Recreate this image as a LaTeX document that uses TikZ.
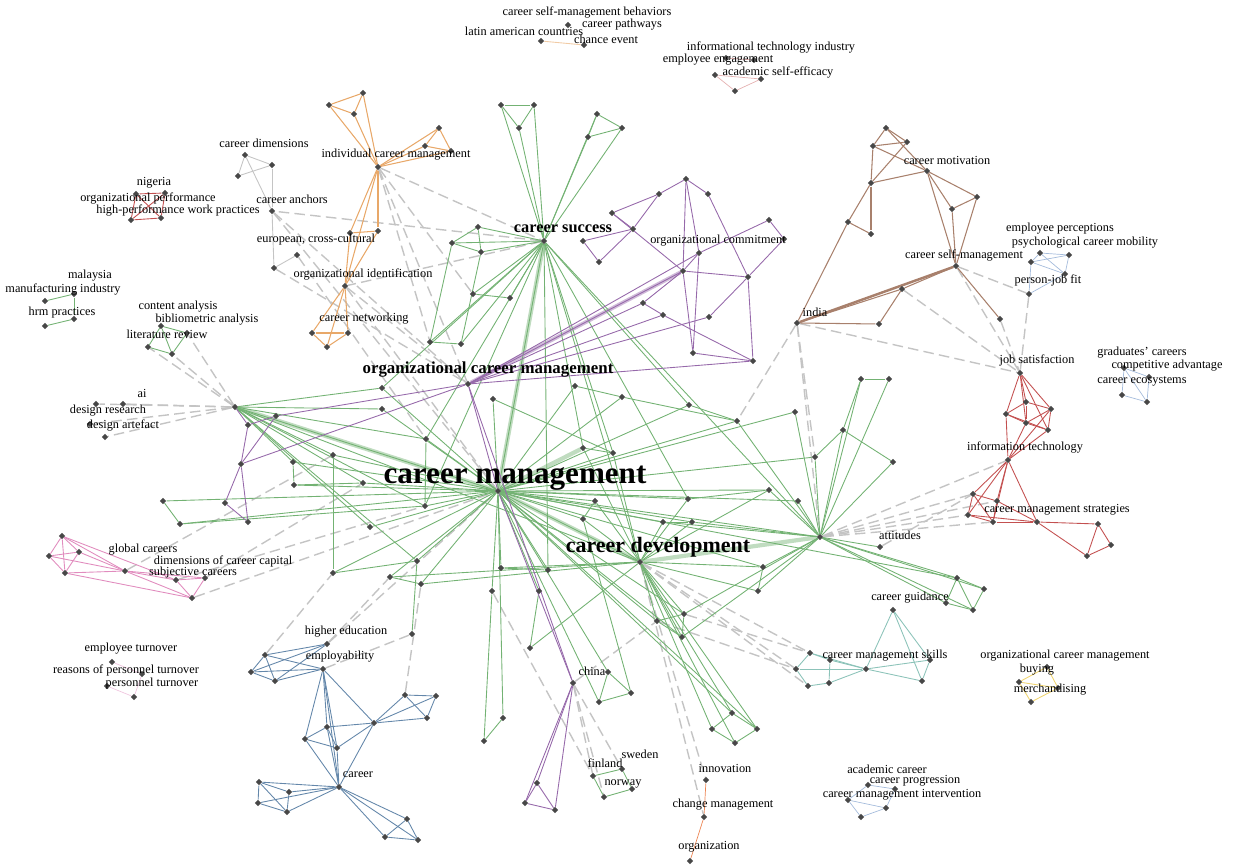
\documentclass[tikz,border=0pt]{standalone}
\usepackage{fontspec}
\setmainfont{Liberation Serif}
\usetikzlibrary{shapes.geometric}
\pgfdeclarelayer{bg}
\pgfsetlayers{bg,main}
\definecolor{grnc}{RGB}{115,178,115}
\definecolor{purc}{RGB}{150,105,170}
\definecolor{orac}{RGB}{232,168,105}
\definecolor{broc}{RGB}{168,128,108}
\definecolor{redc}{RGB}{195,80,80}
\definecolor{bluc}{RGB}{100,135,170}
\definecolor{pnkc}{RGB}{225,140,190}
\definecolor{gryc}{RGB}{196,196,196}
\definecolor{telc}{RGB}{140,195,185}
\definecolor{yelc}{RGB}{240,212,110}
\definecolor{lbuc}{RGB}{165,188,220}
\tikzset{
  dot/.style={diamond, fill=black!72, inner sep=0pt, minimum size=3.8pt},
  lab/.style={font=\fontsize{7}{7}\selectfont, inner sep=0pt},
  grn/.style={grnc, line width=0.5pt},
  grnw/.style={grnc!45, line width=2.4pt},
  pur/.style={purc, line width=0.5pt},
  ora/.style={orac, line width=0.6pt},
  bro/.style={broc, line width=0.6pt},
  rd/.style={redc, line width=0.5pt},
  blu/.style={bluc, line width=0.5pt},
  pnk/.style={pnkc, line width=0.5pt},
  gry/.style={gryc, line width=0.5pt},
  dsh/.style={gryc, line width=0.8pt, dash pattern=on 6pt off 3pt},
}
\begin{document}
\begin{tikzpicture}[x=0.02cm, y=-0.02cm]
\useasboundingbox (0,0) rectangle (1233,868);
% green part
\foreach \n/\x/\y in {cm/498/491, cs/544/241, cd/640/562, hl/235/407, hr/820/537,
  g1/501/105, g2/534/105, g3/519/128, g4/597/114, g5/622/128, g6/588/137, g7/478/227, g8/452/243,
  g9/481/252, g10/473/294, g11/510/298, g12/430/342, g13/461/344, g14/382/388, g15/382/409,
  g16/493/399, g17/575/386, g18/622/397, g19/689/405, g20/737/421, g21/795/412, g22/426/439,
  g23/583/448, g24/613/453, g25/815/457, g26/425/506, g27/595/501, g28/688/499, g29/769/490,
  g30/798/501, g31/583/519, g32/663/522, g33/692/522, g34/763/567, g35/417/561, g36/501/568,
  g37/548/570, g38/333/455, g39/293/462, g40/294/485, g41/363/483, g42/370/527, g43/163/501,
  g44/180/524, g45/333/573, g46/390/577, g47/421/584, g48/492/591, g49/539/591, g50/758/591,
  g51/657/621, g52/684/614, g53/682/637, g54/530/648, g55/412/634, g56/503/718, g57/484/741,
  g58/608/672, g59/599/702, g60/631/693, g61/732/713, g62/712/729, g63/757/729, g64/735/743,
  g65/861/379, g66/889/379, g67/843/430, g68/893/462, g69/880/547, g70/957/578, g71/984/589,
  g72/946/603, g73/973/610}
  \node (\n) [dot] at (\x,\y) {};
% purple part
\foreach \n/\x/\y in {ocm/468/384, p1/612/213, p2/659/194, p3/686/179, p4/708/194, p5/633/229,
  p6/583/241, p7/599/262, p8/769/220, p9/784/239, p10/699/253, p11/683/271, p12/748/277,
  p13/643/303, p14/663/315, p15/709/317, p16/693/353, p17/753/361, p18/276/416, p19/248/425,
  p20/241/464, p21/225/503, p22/248/522, p23/573/683, p24/537/783, p25/525/803, p26/555/810}
  \node (\n) [dot] at (\x,\y) {};
% small clusters
\foreach \n/\x/\y in {o0/378/167, o1/329/105, o2/363/93, o3/354/114, o4/439/128, o5/425/146,
  o6/451/151, o7/350/233, o8/378/231, o9/345/286, o10/312/333, o11/348/333, o12/327/347,
  k1/245/155, k2/272/165, k3/238/176, k4/272/211, k5/297/255, k6/274/268,
  n1/136/194, n2/165/193, n3/131/220, n4/161/218, t1/541/41, t2/584/45, t3/568/25,
  e1/715/75, e2/761/79, e3/735/91, e4/726/58, e5/754/60,
  b1/886/128, b2/907/142, b3/873/146, b4/927/171, b5/871/183, b6/977/197, b7/952/209,
  b8/848/222, b9/871/234, b10/956/266, b11/902/289, b12/797/323, b13/879/324, b14/1000/319,
  q1/1031/262, q2/1069/255, q3/1040/253, q4/1065/274, q5/1029/294,
  r1/1020/373, r2/1026/402, r3/1006/414, r4/1051/409, r5/1026/423, r6/1048/430, r7/1008/460,
  r8/973/494, r9/997/501, r10/968/515, r11/993/522, r12/1037/522, r13/1098/524, r14/1111/545,
  r15/1087/556, u1/1124/368, u2/1149/377, u3/1122/395, u4/1147/402,
  s1/327/644, s2/323/669, s3/265/655, s4/251/672, s5/275/681, s6/327/727, s7/305/739,
  s8/337/748, s9/374/723, s10/405/695, s11/436/696, s12/427/718, s13/339/787, s14/259/782,
  s15/289/792, s16/258/803, s17/287/812, s18/407/819, s19/385/837, s20/418/840,
  h1/62/536, h2/49/556, h3/79/552, h4/65/573, h5/125/571, h6/176/580, h7/205/578, h8/192/598,
  c1/810/653, c2/796/669, c3/808/686, c4/830/660, c5/866/669, c6/829/683, c7/922/681,
  c8/930/660, cg/893/610, y1/1047/667, y2/1019/682, y3/1058/688, y4/1031/702,
  f1/593/776, f2/622/769, f3/632/789, f4/604/797, i1/706/780, i2/704/817, i3/690/861,
  a1/868/785, a2/895/789, a3/848/800, a4/886/808, a5/861/817,
  m1/74/294, m2/45/301, m3/74/319, m4/45/326, l1/161/326, l2/187/333, l3/148/347, l4/172/354,
  d1/96/404, d2/123/404, d3/90/424, d4/105/437, w1/112/662, w2/142/674, w3/107/686, w4/134/697}
  \node (\n) [dot] at (\x,\y) {};
% labels
\node (tcm) [font=\fontsize{17.7}{18}\bfseries\selectfont, inner sep=0pt] at (515,478) {career management};
\node (tcd) [font=\fontsize{12.5}{13}\bfseries\selectfont, inner sep=0pt] at (658,547) {career development};
\node (tcs) [font=\fontsize{9.3}{10}\bfseries\selectfont, inner sep=0pt] at (563,229) {career success};
\node (tocm) [font=\fontsize{9.6}{10}\bfseries\selectfont, inner sep=0pt] at (488,370) {organizational career management};
\foreach \n/\x/\y/\t in {t01/587/13/career self-management behaviors, t02/524/31/latin american countries,
  t03/622/25/career pathways, t04/606/39/chance event, t05/771/47/informational technology industry,
  t06/718/60/employee engagement, t07/778/72/academic self-efficacy, t08/947/160/career motivation,
  t09/264/143/career dimensions, t10/396/155/individual career management, t11/154/183/nigeria,
  t12/148/198/organizational performance, t13/178/210/high-performance work practices,
  t14/292/199/career anchors, t15/718/241/organizational commitment, t16/316/240/{european, cross-cultural},
  t17/1060/229/employee perceptions, t18/1085/243/psychological career mobility,
  t19/964/255/career self-management, t20/363/274/organizational identification, t21/90/276/malaysia,
  t22/63/289/manufacturing industry, t23/1048/280/person-job fit, t24/62/313/hrm practices,
  t25/178/307/content analysis, t26/207/320/bibliometric analysis, t27/364/319/career networking,
  t28/815/312/india, t29/167/334/literature review, t30/1037/360/job satisfaction,
  t31/1142/353/graduates' careers, t32/1167/366/competitive advantage, t33/1142/381/career ecosystems,
  t35/142/393/ai, t36/108/411/design research, t37/123/425/design artefact,
  t38/1025/447/information technology, t40/1057/510/career management strategies,
  t41/900/535/attitudes, t43/143/550/global careers, t44/223/561/dimensions of career capital,
  t45/193/573/subjective careers, t46/910/598/career guidance, t47/346/632/higher education,
  t48/131/649/employee turnover, t49/885/656/career management skills,
  t50/1065/656/organizational career management, t51/340/657/employability,
  t52/126/670/reasons of personnel turnover, t53/1037/670/buying, t54/592/671/china,
  t55/152/684/personnel turnover, t56/1050/690/merchandising, t57/640/754/sweden,
  t58/605/763/finland, t59/725/768/innovation, t60/887/769/academic career,
  t61/915/781/career progression, t62/358/775/career, t63/623/784/norway,
  t64/902/795/career management intervention, t65/723/805/change management, t66/709/847/organization}
  \node (\n) [lab] at (\x,\y) {\t};
\begin{pgfonlayer}{bg}
% grey dashed links between clusters
\foreach \a/\b in {hl/d1, hl/d2, hl/d3, hl/d4, hl/l3, hl/l4, hl/l2, o0/cs, o0/ocm, o0/g12, o0/g10,
  o9/ocm, o9/cm, k4/ocm, k4/cm, k6/ocm, k5/g22, h8/cm, h7/g41, h6/g26, h5/g38, s1/cm, s1/g46,
  s2/g55, s10/g47, s3/g45, p23/g51, p23/f2, p23/f4, p23/f1, cd/i1, cd/i2, cd/c1, cd/c2, cd/c3,
  g52/c1, hr/r8, hr/r9, hr/r10, hr/r11, hr/r7, g69/r8, b12/hr, b12/r1, b12/g20, b12/g25, b10/q5,
  b10/r1, b11/r1, b14/r1, q5/r1, cs/o9, cs/k4, g48/f1, g51/c2}
  \draw[dsh] (\a) -- (\b);
% wide bundles
\foreach \a/\b in {cm/cs, cm/hl, cm/cd, cd/hr, cm/g23}
  \draw[grnw] (\a) -- (\b);
\draw[purc!45, line width=2.2pt] (ocm) -- (p11);
% green links
\foreach \a/\b in {cs/g1, cs/g2, cs/g3, cs/g4, cs/g5, cs/g6, g1/g2, g1/g3, g2/g3, g4/g5, g4/g6,
  g5/g6, cs/g7, cs/g8, cs/g9, g7/g8, g7/g9, g8/g9, g8/g12, g9/g13, cs/g10, cs/g11, cs/g12,
  cs/g13, cs/g22, cs/g23, cs/g24, cs/g28, cs/g19, cs/hr, cs/cd, cs/g14, cs/g26, cs/g37, cs/cm,
  cm/hl, cm/hr, cm/cd, cm/g14, cm/g15, cm/g16, cm/g17, cm/g18, cm/g19, cm/g20, cm/g21, cm/g22,
  cm/g24, cm/g25, cm/g26, cm/g27, cm/g28, cm/g29, cm/g30, cm/g31, cm/g32, cm/g33, cm/g34,
  cm/g35, cm/g36, cm/g37, cm/g38, cm/g39, cm/g40, cm/g41, cm/g42, cm/g43, cm/g44, cm/g45,
  cm/g46, cm/g47, cm/g48, cm/g49, cm/g51, cm/g52, cm/g53, cm/g56, cm/g58, cm/g59, cm/g61,
  cm/g63, cm/g70, hl/g14, hl/g15, hl/g38, hl/g39, hl/g41, hl/g42, hl/cd, hl/g22, hl/g26,
  hl/g35, g43/g44, g44/g26, g39/g40, g40/g41, g38/g45, hr/g25, hr/g29, hr/g30, hr/g34, hr/g50,
  hr/g21, hr/g20, hr/g65, hr/g66, hr/g67, hr/g68, hr/g70, hr/g71, hr/g72, hr/g73, hr/g69,
  hr/g32, hr/g33, hr/g52, hr/g53, g65/g66, g65/g67, g67/g68, g67/g25, g70/g71, g70/g72,
  g71/g73, g72/g73, g70/g73, cd/g27, cd/g28, cd/g31, cd/g32, cd/g33, cd/g34, cd/g50, cd/g51,
  cd/g52, cd/g53, cd/g61, cd/g62, cd/g63, cd/g64, cd/g23, cd/g24, cd/g36, cd/g46, cd/g47,
  cd/g29, g58/g59, g58/g60, g59/g60, g61/g62, g61/g63, g62/g64, g63/g64, g56/g57, g57/g48,
  g54/g49, g54/cd, g55/g35, g51/g52, g51/g53, g52/g53, g34/g50, g17/g18, g18/g20, g19/g20,
  g16/g24, g12/g13, g10/g11, g22/g26, g35/g45, g46/g47, g36/g37, g23/g24, g27/g31, g28/g29,
  g32/g33, g60/g31, m1/m2, m1/m3, m3/m4, l1/l2, l1/l3, l2/l4, l3/l4, l1/l4, f1/f2, f2/f3,
  f3/f4, f1/f4}
  \draw[grn] (\a) -- (\b);
% purple links
\foreach \a/\b in {ocm/p11, ocm/p10, ocm/p13, ocm/p14, ocm/p15, ocm/p17, ocm/p18, ocm/p20,
  ocm/cm, cm/p23, ocm/p23, p23/p24, p23/p25, p23/p26, p24/p25, p25/p26, p24/p26, p1/p2, p1/p5,
  p2/p3, p2/p5, p3/p4, p6/p5, p5/p7, p6/p7, p1/p11, p3/p10, p10/p11, p11/p12, p10/p8, p8/p9,
  p9/p12, p11/p16, p10/p16, p12/p17, p16/p17, p11/p13, p13/p14, p12/p15, p18/p19, p18/p20,
  p19/p20, p20/p21, p20/p22, p21/p22, hl/p19, p4/p12, p3/p11, p14/p17}
  \draw[pur] (\a) -- (\b);
% orange, brown and grey
\foreach \a/\b in {o0/o1, o0/o2, o0/o3, o1/o2, o1/o3, o2/o3, o0/o4, o0/o5, o0/o6, o4/o5, o4/o6,
  o5/o6, o0/o7, o0/o8, o7/o8, o0/o9, o7/o9, o8/o9, o9/o10, o9/o11, o9/o12, o10/o11, o10/o12,
  o11/o12}
  \draw[ora] (\a) -- (\b);
\draw[orac!60, line width=0.5pt] (t1) -- (t2);
\foreach \a/\b in {b1/b2, b1/b3, b2/b3, b1/b4, b3/b4, b2/b5, b3/b5, b5/b4, b4/b6, b4/b7, b6/b7,
  b4/b10, b7/b10, b6/b10, b5/b8, b5/b9, b8/b9, b8/b12, b12/b10, b12/b11, b11/b10, b12/b13,
  b13/b11, b10/b14}
  \draw[bro] (\a) -- (\b);
\draw[broc, line width=1.4pt] (b12) -- (b10);
\foreach \a/\b in {k1/k2, k1/k3, k3/k2, k1/k4, k2/k4, k4/k6, k6/k5}
  \draw[gry] (\a) -- (\b);
% red and blue
\foreach \a/\b in {r1/r2, r1/r3, r1/r4, r1/r5, r1/r6, r2/r3, r2/r4, r2/r5, r3/r5, r3/r6, r4/r5,
  r4/r6, r5/r6, r3/r7, r5/r7, r6/r7, r4/r7, r7/r8, r7/r9, r7/r10, r7/r11, r7/r12, r8/r9, r8/r10,
  r9/r11, r10/r11, r8/r11, r10/r12, r11/r12, r12/r13, r12/r15, r13/r14, r13/r15, r14/r15,
  r9/r12, n1/n2, n1/n3, n2/n4, n3/n4, n1/n4, n2/n3}
  \draw[rd] (\a) -- (\b);
\foreach \a/\b in {e1/e2, e1/e3, e2/e3, e4/e5}
  \draw[redc!45, line width=0.4pt] (\a) -- (\b);
\foreach \a/\b in {s1/s3, s1/s4, s1/s5, s2/s3, s2/s4, s2/s5, s3/s4, s4/s5, s3/s5, s2/s6, s2/s7,
  s2/s8, s2/s9, s2/s13, s6/s7, s6/s8, s7/s8, s6/s9, s8/s9, s9/s10, s9/s11, s9/s12, s10/s11,
  s10/s12, s11/s12, s7/s13, s8/s13, s6/s13, s9/s13, s13/s14, s13/s15, s13/s16, s13/s17,
  s14/s15, s14/s16, s15/s17, s16/s17, s14/s17, s13/s18, s13/s19, s13/s20, s18/s19, s18/s20,
  s19/s20}
  \draw[blu] (\a) -- (\b);
\foreach \a/\b in {q1/q2, q1/q3, q2/q3, q1/q4, q2/q4, q3/q4, q4/q5, q1/q5, u1/u2, u1/u3, u2/u4,
  u3/u4, u1/u4, a1/a2, a1/a3, a2/a4, a3/a5, a4/a5, a3/a4}
  \draw[lbuc, line width=0.4pt] (\a) -- (\b);
% pink, teal, yellow
\foreach \a/\b in {h1/h2, h1/h3, h1/h4, h2/h3, h2/h4, h3/h4, h1/h5, h2/h5, h3/h5, h4/h5, h5/h6,
  h5/h7, h5/h8, h6/h7, h6/h8, h7/h8, h4/h8, h1/h6}
  \draw[pnk] (\a) -- (\b);
\foreach \a/\b in {w1/w2, w2/w4, w3/w4}
  \draw[pnkc!50, line width=0.4pt] (\a) -- (\b);
\foreach \a/\b in {cg/c8, cg/c7, cg/c5, c1/c2, c1/c4, c2/c3, c3/c6, c4/c5, c6/c5, c5/c7, c5/c8,
  c7/c8, c2/c5, c4/c6, c1/c5}
  \draw[telc, line width=0.5pt] (\a) -- (\b);
\foreach \a/\b in {y1/y2, y1/y3, y2/y4, y3/y4, y2/y3}
  \draw[yelc, line width=0.5pt] (\a) -- (\b);
\foreach \a/\b in {i1/i2, i2/i3}
  \draw[orac!80!red, line width=0.4pt] (\a) -- (\b);
\end{pgfonlayer}
\end{tikzpicture}
\end{document}
